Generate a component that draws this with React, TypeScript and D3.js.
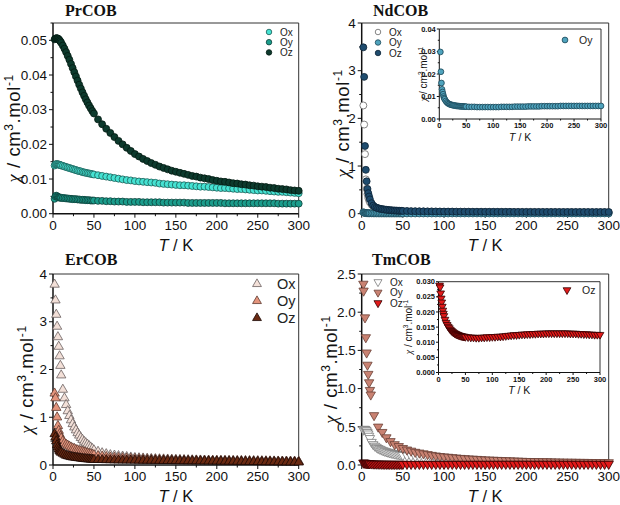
import React from "react";
import * as d3 from "d3";

// ---------------- DATA ----------------
const TEMP = [2, 3, 4, 5, 6, 7, 8, 9, 10,
  12, 14, 16, 18, 20, 22, 24, 26, 28, 30,
  32, 34, 36, 38, 40, 42, 44, 46, 48, 50,
  55, 60, 65, 70, 75, 80, 85, 90, 95, 100,
  105, 110, 115, 120, 125, 130, 135, 140, 145, 150,
  155, 160, 165, 170, 175, 180, 185, 190, 195, 200,
  205, 210, 215, 220, 225, 230, 235, 240, 245, 250,
  255, 260, 265, 270, 275, 280, 285, 290, 295, 300];

const TM_OY_TEMP = [2, 2.3, 4, 5, 6, 7, 8, 9, 10, 11,
  15, 20, 25, 30, 35, 40, 45, 50,
  55, 60, 65, 70, 75, 80, 85, 90, 95, 100,
  105, 110, 115, 120, 125, 130, 135, 140, 145, 150,
  155, 160, 165, 170, 175, 180, 185, 190, 195, 200,
  205, 210, 215, 220, 225, 230, 235, 240, 245, 250,
  255, 260, 265, 270, 275, 280, 285, 290, 295, 300];

const SERIES_NAMES = ["Ox", "Oy", "Oz"];

const PR_OX = [0.0139, 0.0142, 0.0143, 0.0143, 0.0142, 0.0142, 0.0141, 0.0140, 0.0139,
  0.0138, 0.0136, 0.0135, 0.0133, 0.0132, 0.0130, 0.0129, 0.0127, 0.0126, 0.0124,
  0.0123, 0.0122, 0.0120, 0.0119, 0.0118, 0.0117, 0.0116, 0.0115, 0.0114, 0.0113,
  0.0111, 0.0109, 0.0107, 0.0105, 0.0103, 0.0101, 0.0099, 0.0097, 0.0096, 0.0094,
  0.0093, 0.0092, 0.0091, 0.0090, 0.0089, 0.0087, 0.0086, 0.0085, 0.0084, 0.0083,
  0.0082, 0.0082, 0.0081, 0.0080, 0.0079, 0.0078, 0.0078, 0.0077, 0.0076, 0.0075,
  0.0074, 0.0074, 0.0073, 0.0072, 0.0071, 0.0071, 0.0070, 0.0069, 0.0068, 0.0067,
  0.0067, 0.0066, 0.0065, 0.0064, 0.0063, 0.0063, 0.0062, 0.0061, 0.0060, 0.0059];

const PR_OY = [0.0043, 0.0050, 0.0052, 0.0050, 0.0048, 0.0047, 0.0047, 0.0046, 0.0046,
  0.0045, 0.0045, 0.0044, 0.0044, 0.0043, 0.0043, 0.0042, 0.0042, 0.0042, 0.0041,
  0.0041, 0.0040, 0.0040, 0.0040, 0.0039, 0.0039, 0.0039, 0.0038, 0.0038, 0.0038,
  0.0037, 0.0037, 0.0036, 0.0036, 0.0035, 0.0035, 0.0035, 0.0034, 0.0034, 0.0034,
  0.0034, 0.0033, 0.0033, 0.0033, 0.0033, 0.0033, 0.0032, 0.0032, 0.0032, 0.0032,
  0.0032, 0.0032, 0.0031, 0.0031, 0.0031, 0.0031, 0.0031, 0.0031, 0.0031, 0.0031,
  0.0031, 0.0030, 0.0030, 0.0030, 0.0030, 0.0030, 0.0030, 0.0030, 0.0030, 0.0030,
  0.0030, 0.0030, 0.0030, 0.0030, 0.0029, 0.0029, 0.0029, 0.0029, 0.0029, 0.0029];

const PR_OZ = [0.0503, 0.0505, 0.0506, 0.0506, 0.0505, 0.0503, 0.0500, 0.0497, 0.0493,
  0.0485, 0.0476, 0.0466, 0.0455, 0.0444, 0.0432, 0.0420, 0.0408, 0.0396, 0.0384,
  0.0372, 0.0361, 0.0350, 0.0340, 0.0330, 0.0321, 0.0312, 0.0304, 0.0296, 0.0289,
  0.0272, 0.0258, 0.0245, 0.0233, 0.0221, 0.0210, 0.0200, 0.0190, 0.0181, 0.0172,
  0.0165, 0.0158, 0.0152, 0.0146, 0.0141, 0.0136, 0.0132, 0.0128, 0.0124, 0.0121,
  0.0118, 0.0115, 0.0112, 0.0109, 0.0107, 0.0104, 0.0102, 0.0100, 0.0097, 0.0095,
  0.0093, 0.0092, 0.0090, 0.0088, 0.0087, 0.0085, 0.0084, 0.0082, 0.0081, 0.0079,
  0.0078, 0.0077, 0.0075, 0.0074, 0.0072, 0.0071, 0.0070, 0.0068, 0.0067, 0.0066];

const ND_OX = [2.27, 1.87, 1.25, 0.72, 0.52, 0.41, 0.33, 0.28, 0.24,
  0.19, 0.16, 0.135, 0.12, 0.105, 0.095, 0.088, 0.082, 0.076, 0.072,
  0.068, 0.065, 0.062, 0.060, 0.058, 0.056, 0.054, 0.052, 0.051, 0.050,
  0.048, 0.046, 0.045, 0.044, 0.043, 0.042, 0.041, 0.040, 0.040, 0.039,
  0.039, 0.038, 0.038, 0.037, 0.037, 0.037, 0.036, 0.036, 0.036, 0.035,
  0.035, 0.035, 0.035, 0.034, 0.034, 0.034, 0.034, 0.034, 0.033, 0.033,
  0.033, 0.033, 0.033, 0.033, 0.032, 0.032, 0.032, 0.032, 0.032, 0.032,
  0.032, 0.031, 0.031, 0.031, 0.031, 0.031, 0.031, 0.031, 0.031, 0.030];

const ND_OY = [0.0298, 0.0210, 0.0160, 0.0132, 0.0120, 0.0110, 0.0100, 0.0093, 0.0088,
  0.0080, 0.0074, 0.0070, 0.0067, 0.0065, 0.0063, 0.0062, 0.0061, 0.0060, 0.0059,
  0.0058, 0.0058, 0.0057, 0.0057, 0.0056, 0.0056, 0.0056, 0.0055, 0.0055, 0.0055,
  0.0054, 0.0054, 0.0054, 0.0053, 0.0053, 0.0053, 0.0053, 0.0053, 0.0053, 0.0053,
  0.0053, 0.0053, 0.0054, 0.0054, 0.0054, 0.0054, 0.0054, 0.0055, 0.0055, 0.0055,
  0.0055, 0.0055, 0.0056, 0.0056, 0.0056, 0.0056, 0.0056, 0.0057, 0.0057, 0.0057,
  0.0057, 0.0057, 0.0057, 0.0057, 0.0058, 0.0058, 0.0058, 0.0058, 0.0058, 0.0058,
  0.0058, 0.0058, 0.0058, 0.0058, 0.0058, 0.0058, 0.0058, 0.0058, 0.0058, 0.0058];

const ND_OZ = [3.49, 2.87, 1.42, 0.92, 0.68, 0.52, 0.43, 0.36, 0.30,
  0.22, 0.17, 0.14, 0.125, 0.115, 0.105, 0.098, 0.092, 0.087, 0.082,
  0.078, 0.075, 0.072, 0.069, 0.067, 0.065, 0.063, 0.061, 0.060, 0.058,
  0.056, 0.054, 0.052, 0.051, 0.050, 0.049, 0.048, 0.047, 0.046, 0.045,
  0.044, 0.044, 0.043, 0.043, 0.042, 0.042, 0.041, 0.041, 0.041, 0.040,
  0.040, 0.040, 0.039, 0.039, 0.039, 0.039, 0.038, 0.038, 0.038, 0.038,
  0.038, 0.037, 0.037, 0.037, 0.037, 0.037, 0.037, 0.036, 0.036, 0.036,
  0.036, 0.036, 0.036, 0.036, 0.035, 0.035, 0.035, 0.035, 0.035, 0.035];

const ER_OX = [3.78, 3.45, 3.15, 2.90, 2.68, 2.48, 2.28, 2.08, 1.88,
  1.58, 1.40, 1.26, 1.13, 1.03, 0.94, 0.86, 0.79, 0.73, 0.67,
  0.62, 0.57, 0.53, 0.49, 0.46, 0.43, 0.40, 0.37, 0.34, 0.31,
  0.28, 0.25, 0.23, 0.21, 0.20, 0.19, 0.18, 0.17, 0.16, 0.15,
  0.145, 0.14, 0.135, 0.13, 0.127, 0.124, 0.121, 0.118, 0.115, 0.11,
  0.108, 0.106, 0.104, 0.102, 0.100, 0.098, 0.096, 0.094, 0.092, 0.090,
  0.089, 0.088, 0.087, 0.086, 0.085, 0.084, 0.083, 0.082, 0.081, 0.080,
  0.079, 0.078, 0.077, 0.076, 0.075, 0.074, 0.073, 0.072, 0.071, 0.070];

const ER_OY = [1.50, 1.40, 1.20, 1.00, 0.82, 0.72, 0.65, 0.60, 0.56,
  0.50, 0.46, 0.43, 0.41, 0.39, 0.37, 0.35, 0.34, 0.32, 0.31,
  0.30, 0.29, 0.28, 0.27, 0.26, 0.25, 0.24, 0.23, 0.22, 0.21,
  0.19, 0.18, 0.17, 0.16, 0.155, 0.15, 0.145, 0.14, 0.135, 0.13,
  0.127, 0.124, 0.121, 0.118, 0.115, 0.112, 0.11, 0.108, 0.106, 0.104,
  0.102, 0.1, 0.098, 0.097, 0.096, 0.095, 0.094, 0.093, 0.092, 0.091,
  0.09, 0.089, 0.088, 0.087, 0.086, 0.085, 0.084, 0.083, 0.082, 0.081,
  0.08, 0.079, 0.078, 0.077, 0.076, 0.075, 0.074, 0.073, 0.072, 0.071];

const ER_OZ = [0.65, 0.58, 0.50, 0.42, 0.37, 0.33, 0.30, 0.28, 0.26,
  0.24, 0.22, 0.20, 0.19, 0.18, 0.17, 0.165, 0.16, 0.155, 0.15,
  0.145, 0.14, 0.135, 0.13, 0.127, 0.124, 0.121, 0.118, 0.115, 0.112,
  0.11, 0.108, 0.106, 0.104, 0.102, 0.1, 0.099, 0.098, 0.097, 0.096,
  0.095, 0.094, 0.093, 0.092, 0.091, 0.09, 0.089, 0.088, 0.087, 0.086,
  0.085, 0.084, 0.083, 0.082, 0.081, 0.08, 0.079, 0.078, 0.077, 0.076,
  0.075, 0.074, 0.073, 0.072, 0.071, 0.07, 0.069, 0.068, 0.067, 0.066,
  0.065, 0.064, 0.063, 0.062, 0.061, 0.06, 0.059, 0.058, 0.057, 0.056];

const TM_OX = [0.46, 0.47, 0.47, 0.46, 0.45, 0.43, 0.41, 0.38, 0.35,
  0.30, 0.27, 0.25, 0.235, 0.22, 0.21, 0.20, 0.19, 0.183, 0.176,
  0.17, 0.164, 0.158, 0.153, 0.148, 0.144, 0.14, 0.136, 0.132, 0.129,
  0.123, 0.118, 0.113, 0.108, 0.104, 0.10, 0.096, 0.092, 0.089, 0.086,
  0.083, 0.08, 0.077, 0.074, 0.071, 0.069, 0.067, 0.065, 0.063, 0.061,
  0.059, 0.057, 0.055, 0.053, 0.051, 0.05, 0.048, 0.047, 0.046, 0.045,
  0.044, 0.043, 0.042, 0.041, 0.04, 0.039];

const TM_OY = [2.37, 2.28, 1.93, 1.67, 1.47, 1.31, 1.19, 1.08, 0.98, 0.92,
  0.65, 0.50, 0.43, 0.36, 0.31, 0.27, 0.245, 0.22,
  0.20, 0.185, 0.17, 0.16, 0.15, 0.14, 0.13, 0.122, 0.115, 0.11,
  0.105, 0.10, 0.095, 0.09, 0.087, 0.083, 0.08, 0.077, 0.074, 0.07,
  0.068, 0.066, 0.064, 0.062, 0.06, 0.058, 0.056, 0.054, 0.052, 0.05,
  0.049, 0.048, 0.047, 0.046, 0.045, 0.044, 0.043, 0.042, 0.041, 0.04,
  0.04, 0.039, 0.038, 0.038, 0.037, 0.036, 0.036, 0.035, 0.035, 0.034];

const TM_OZ = [0.0288, 0.0282, 0.0262, 0.0245, 0.0232, 0.0218, 0.0205, 0.0195, 0.0187,
  0.0175, 0.0165, 0.0158, 0.0152, 0.0147, 0.0142, 0.0138, 0.0135, 0.0132, 0.0130,
  0.0128, 0.0126, 0.0125, 0.0123, 0.0122, 0.0121, 0.0120, 0.0119, 0.0119, 0.0118,
  0.0117, 0.0116, 0.0116, 0.0115, 0.0115, 0.0116, 0.0116, 0.0117, 0.0117, 0.0118,
  0.0118, 0.0119, 0.0119, 0.0120, 0.0121, 0.0122, 0.0123, 0.0124, 0.0124, 0.0125,
  0.0126, 0.0126, 0.0127, 0.0127, 0.0128, 0.0128, 0.0129, 0.0129, 0.0129, 0.0130,
  0.0130, 0.0130, 0.0130, 0.0130, 0.0130, 0.0130, 0.0130, 0.0130, 0.0129, 0.0129,
  0.0129, 0.0128, 0.0128, 0.0127, 0.0127, 0.0126, 0.0126, 0.0125, 0.0125, 0.0125];

const X_TICKS = [0, 50, 100, 150, 200, 250, 300];
const X_MINOR = [25, 75, 125, 175, 225, 275];

// ---------------- STYLE ----------------
const SANS = "'Liberation Sans', Arial, Helvetica, sans-serif";
const SERIF = "'Liberation Serif', 'Times New Roman', serif";

const STY = {
  prOx: { shape: "circle", fill: "#45e2d2", stroke: "#1b5c55" },
  prOy: { shape: "circle", fill: "#1b9d8c", stroke: "#0c3f38" },
  prOz: { shape: "circle", fill: "#0d3a2d", stroke: "#041a12" },
  ndOx: { shape: "circle", fill: "#ffffff", stroke: "#666666" },
  ndOy: { shape: "circle", fill: "#4fa3bd", stroke: "#1b4555" },
  ndOz: { shape: "circle", fill: "#1f4c6e", stroke: "#0b2235" },
  erOx: { shape: "up", fill: "#f3e0d8", stroke: "#6a6060" },
  erOy: { shape: "up", fill: "#e4947c", stroke: "#5e3a30" },
  erOz: { shape: "up", fill: "#6a2a12", stroke: "#1a0804" },
  tmOx: { shape: "down", fill: "#ffffff", stroke: "#7a7a7a" },
  tmOy: { shape: "down", fill: "#c98272", stroke: "#6a4036" },
  tmOz: { shape: "down", fill: "#e31a1a", stroke: "#330000" },
};

function symbolPath(shape, size) {
  const type = shape === "circle" ? d3.symbolCircle : d3.symbolTriangle;
  return d3.symbol().type(type).size(size)();
}

function Marker({ x, y, st, size }) {
  const rot = st.shape === "down" ? 180 : 0;
  return (
    <path d={symbolPath(st.shape, size)}
      transform={`translate(${x},${y}) rotate(${rot})`}
      fill={st.fill} stroke={st.stroke} strokeWidth={0.8} />
  );
}

function YLabel({ x, y, size, spacing }) {
  return (
    <text transform={`translate(${x},${y}) rotate(-90)`} textAnchor="middle"
      fontFamily={SANS} fontSize={size} fill="#111" letterSpacing={spacing}>
      <tspan fontFamily={SERIF} fontStyle="italic">χ</tspan>
      <tspan>{" / cm"}</tspan>
      <tspan dy={-size * 0.38} fontSize={size * 0.65}>3</tspan>
      <tspan dy={size * 0.38}>{".mol"}</tspan>
      <tspan dy={-size * 0.38} fontSize={size * 0.65}>-1</tspan>
    </text>
  );
}

function XLabel({ x, y, size }) {
  return (
    <text x={x} y={y} textAnchor="middle" fontFamily={SANS} fontSize={size} fill="#111">
      <tspan fontStyle="italic">T</tspan>
      <tspan>{" / K"}</tspan>
    </text>
  );
}

function Plot({ cfg }) {
  const x = d3.scaleLinear().domain([0, 300]).range([cfg.left, cfg.right]);
  const y = d3.scaleLinear().domain([0, cfg.yMax]).range([cfg.bottom, cfg.top]);
  const fmt = d3.format(cfg.yFmt);
  const majLen = cfg.inset ? 2.5 : 4;
  const minLen = cfg.inset ? 1.5 : 2.5;
  return (
    <g>
      {cfg.inset && (
        <rect x={cfg.left} y={cfg.top} width={cfg.right - cfg.left} height={cfg.bottom - cfg.top} fill="#fff" />
      )}
      <line x1={cfg.left} x2={cfg.right} y1={cfg.top} y2={cfg.top} stroke="#333" strokeWidth={1} />
      <line x1={cfg.right} x2={cfg.right} y1={cfg.top} y2={cfg.bottom} stroke="#333" strokeWidth={1} />
      <line x1={cfg.left} x2={cfg.right} y1={cfg.bottom} y2={cfg.bottom} stroke="#111" strokeWidth={cfg.inset ? 1 : 1.5} />
      <line x1={cfg.left} x2={cfg.left} y1={cfg.top} y2={cfg.bottom} stroke="#111" strokeWidth={cfg.inset ? 1 : 1.5} />
      {X_TICKS.map((t) => (
        <g key={"xt" + t}>
          <line x1={x(t)} x2={x(t)} y1={cfg.bottom} y2={cfg.bottom + majLen} stroke="#111" strokeWidth={1} />
          <text x={x(t)} y={cfg.bottom + cfg.xTickDy} textAnchor="middle" fontFamily={SANS}
            fontSize={cfg.tickFont} fontWeight={cfg.inset ? "bold" : "normal"} fill="#111">{t}</text>
        </g>
      ))}
      {X_MINOR.map((t) => (
        <line key={"xm" + t} x1={x(t)} x2={x(t)} y1={cfg.bottom} y2={cfg.bottom + minLen} stroke="#111" strokeWidth={1} />
      ))}
      {cfg.yTicks.map((v) => (
        <g key={"yt" + v}>
          <line x1={cfg.left} x2={cfg.left - majLen} y1={y(v)} y2={y(v)} stroke="#111" strokeWidth={1} />
          <text x={cfg.left - cfg.yTickDx} y={y(v)} dy="0.35em" textAnchor="end" fontFamily={SANS}
            fontSize={cfg.tickFont} fontWeight={cfg.inset ? "bold" : "normal"} fill="#111">{fmt(v)}</text>
        </g>
      ))}
      {cfg.yMinor.map((v) => (
        <line key={"ym" + v} x1={cfg.left} x2={cfg.left - minLen} y1={y(v)} y2={y(v)} stroke="#111" strokeWidth={1} />
      ))}
      {cfg.series.map((s, si) => (
        <g key={"s" + si}>
          {s.v.map((v, i) => (
            <Marker key={i} x={x(s.t[i])} y={y(v)} st={s.st} size={cfg.markSize} />
          ))}
        </g>
      ))}
      {cfg.legend.items.map((it, i) => (
        <g key={"lg" + i}>
          <Marker x={cfg.legend.x} y={cfg.legend.y + i * cfg.legend.dy} st={it.st} size={cfg.legend.markSize} />
          <text x={cfg.legend.tx} y={cfg.legend.y + i * cfg.legend.dy} dy="0.35em" fontFamily={SANS}
            fontSize={cfg.legend.font} fill="#222">{it.name}</text>
        </g>
      ))}
      <XLabel x={(cfg.left + cfg.right) / 2} y={cfg.bottom + cfg.xLabelDy} size={cfg.xLabelFont} />
      <YLabel x={cfg.yLabelX} y={(cfg.top + cfg.bottom) / 2 + (cfg.yLabelShift || 0)} size={cfg.yLabelFont} spacing={cfg.yLabelSpacing} />
      {cfg.title && (
        <text x={cfg.titleX} y={cfg.titleY} fontFamily={SERIF} fontWeight="bold" fontSize={16} fill="#111">{cfg.title}</text>
      )}
    </g>
  );
}

const range = (a, b, s) => d3.range(a, b + s / 2, s).map((v) => +v.toFixed(4));

const MAIN = { tickFont: 13.5, xTickDy: 16, yTickDx: 6, xLabelDy: 37, xLabelFont: 16.5, yLabelFont: 18.5, yLabelSpacing: 0.6, markSize: 38 };
const INSET = { inset: true, tickFont: 7.5, xTickDy: 9, yTickDx: 3.5, xLabelDy: 21.5, xLabelFont: 10.5, yLabelFont: 10, yLabelSpacing: 0, markSize: 26 };

const PANELS = [
  {
    ...MAIN, title: "PrCOB", titleX: 65, titleY: 16,
    left: 53, right: 298.7, top: 23, bottom: 213.7, yMax: 0.055, yFmt: ".2f",
    yTicks: range(0, 0.05, 0.01), yMinor: range(0.005, 0.055, 0.01), yLabelX: 20, yLabelShift: 10,
    series: [
      { t: TEMP, v: PR_OX, st: STY.prOx },
      { t: TEMP, v: PR_OY, st: STY.prOy },
      { t: TEMP, v: PR_OZ, st: STY.prOz },
    ],
    legend: { x: 269, tx: 280, y: 32, dy: 10.2, font: 10, markSize: 24,
      items: [{ name: SERIES_NAMES[0], st: STY.prOx }, { name: SERIES_NAMES[1], st: STY.prOy }, { name: SERIES_NAMES[2], st: STY.prOz }] },
  },
  {
    ...MAIN, title: "NdCOB", titleX: 373, titleY: 16,
    left: 361.7, right: 608.7, top: 23, bottom: 213.7, yMax: 4, yFmt: "d",
    yTicks: range(0, 4, 1), yMinor: range(0.5, 3.5, 1), yLabelX: 349, yLabelShift: 5,
    series: [
      { t: TEMP, v: ND_OX, st: STY.ndOx },
      { t: TEMP, v: ND_OY, st: STY.ndOy },
      { t: TEMP, v: ND_OZ, st: STY.ndOz },
    ],
    legend: { x: 378, tx: 389, y: 32, dy: 10.5, font: 10, markSize: 24,
      items: [{ name: SERIES_NAMES[0], st: STY.ndOx }, { name: SERIES_NAMES[1], st: STY.ndOy }, { name: SERIES_NAMES[2], st: STY.ndOz }] },
  },
  {
    ...MAIN, title: "ErCOB", titleX: 65, titleY: 265,
    left: 53, right: 298.7, top: 274, bottom: 465, yMax: 4, yFmt: "d",
    yTicks: range(0, 4, 1), yMinor: range(0.5, 3.5, 1), yLabelX: 33, yLabelShift: 10,
    series: [
      { t: TEMP, v: ER_OX, st: STY.erOx },
      { t: TEMP, v: ER_OY, st: STY.erOy },
      { t: TEMP, v: ER_OZ, st: STY.erOz },
    ],
    legend: { x: 257, tx: 277, y: 284, dy: 17, font: 14.5, markSize: 34,
      items: [{ name: SERIES_NAMES[0], st: STY.erOx }, { name: SERIES_NAMES[1], st: STY.erOy }, { name: SERIES_NAMES[2], st: STY.erOz }] },
  },
  {
    ...MAIN, title: "TmCOB", titleX: 372, titleY: 265,
    left: 361.7, right: 608.7, top: 274, bottom: 465, yMax: 2.5, yFmt: ".1f",
    yTicks: range(0, 2.5, 0.5), yMinor: range(0.25, 2.25, 0.5), yLabelX: 337, yLabelShift: 0,
    series: [
      { t: TEMP, v: TM_OX, st: STY.tmOx },
      { t: TM_OY_TEMP, v: TM_OY, st: STY.tmOy },
      { t: TEMP, v: TM_OZ, st: STY.tmOz },
    ],
    legend: { x: 378, tx: 390, y: 282, dy: 10.5, font: 10, markSize: 28,
      items: [{ name: SERIES_NAMES[0], st: STY.tmOx }, { name: SERIES_NAMES[1], st: STY.tmOy }, { name: SERIES_NAMES[2], st: STY.tmOz }] },
  },
  {
    ...INSET,
    left: 439.3, right: 601, top: 29, bottom: 119, yMax: 0.04, yFmt: ".2f",
    yTicks: range(0, 0.04, 0.01), yMinor: range(0.005, 0.035, 0.01), yLabelX: 427,
    series: [{ t: TEMP, v: ND_OY, st: STY.ndOy }],
    legend: { x: 565, tx: 579, y: 40, dy: 10, font: 10.5, markSize: 26,
      items: [{ name: SERIES_NAMES[1], st: STY.ndOy }] },
  },
  {
    ...INSET,
    left: 438.5, right: 600, top: 281.7, bottom: 372.5, yMax: 0.03, yFmt: ".3f",
    yTicks: range(0, 0.03, 0.005), yMinor: range(0.0025, 0.0275, 0.005), yLabelX: 412,
    series: [{ t: TEMP, v: TM_OZ, st: STY.tmOz }],
    legend: { x: 567, tx: 582, y: 290, dy: 10, font: 10.5, markSize: 26,
      items: [{ name: SERIES_NAMES[2], st: STY.tmOz }] },
  },
];

export default function App() {
  return (
    <svg width={620} height={505} viewBox="0 0 620 505"
      style={{ position: "absolute", left: 0, top: 0, background: "#fff", display: "block" }}>
      <rect x={0} y={0} width={620} height={505} fill="#fff" />
      {PANELS.map((p, i) => <Plot key={i} cfg={p} />)}
    </svg>
  );
}
